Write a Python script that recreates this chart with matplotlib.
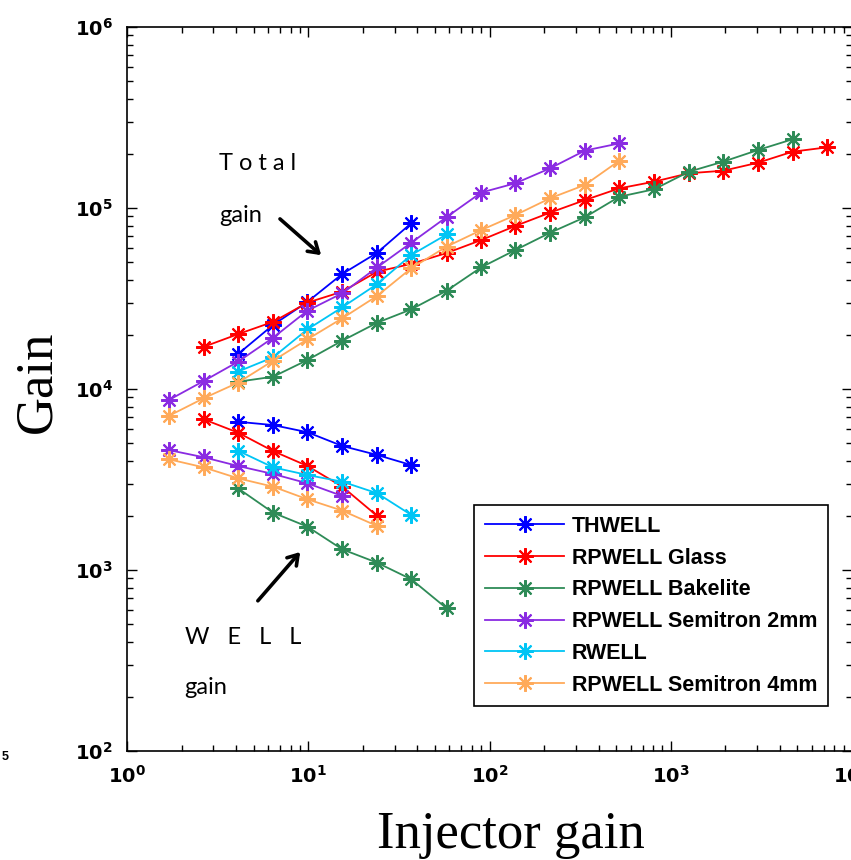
import numpy as np
import matplotlib
matplotlib.use("Agg")
import matplotlib.pyplot as plt
from matplotlib.ticker import FuncFormatter, LogLocator, NullFormatter

# injector gain values (common grid)
inj = [1.7, 2.65, 4.1, 6.4, 9.9, 15.4, 24, 37, 58, 90, 139, 216, 336, 520,
       810, 1260, 1950, 3030, 4700, 7300]

# total gain
thwell_x = inj[2:8]
thwell_tot = [15600, 22600, 30300, 43200, 56600, 82400]
glass_x = inj[1:20]
glass_tot = [17100, 20100, 23500, 30000, 34500, 44500, 49100, 56400, 66500,
             79600, 94300, 110600, 128400, 139800, 155600, 160700, 177900,
             204700, 216400]
bake_x = inj[2:19]
bake_tot = [10970, 11690, 14460, 18480, 23240, 27550, 34900, 47000, 58600,
            73000, 88900, 115400, 126900, 158700, 180400, 209100, 239700]
semi2_x = inj[0:14]
semi2_tot = [8690, 11070, 14150, 19200, 27100, 33800, 47000, 64300, 89100,
             121700, 137000, 165700, 207600, 227500]
rwell_x = inj[2:9]
rwell_tot = [12480, 14970, 21360, 28270, 38000, 55000, 71400]
semi4_x = inj[0:14]
semi4_tot = [7100, 8890, 10840, 14330, 18820, 24580, 32680, 46470, 61200,
             75500, 91400, 113200, 134100, 182500]

# WELL gain
thwell_wx = inj[2:8]
thwell_well = [6590, 6320, 5770, 4845, 4320, 3800]
glass_wx = inj[1:7]
glass_well = [6800, 5740, 4540, 3755, 2890, 1990]
bake_wx = inj[2:9]
bake_well = [2826, 2073, 1735, 1301, 1097, 889, 614]
semi2_wx = inj[0:6]
semi2_well = [4600, 4197, 3755, 3392, 3012, 2565]
rwell_wx = inj[2:8]
rwell_well = [4560, 3690, 3348, 3076, 2655, 2015]
semi4_wx = inj[0:7]
semi4_well = [4090, 3690, 3210, 2886, 2458, 2128, 1750]

labels = ["THWELL", "RPWELL Glass", "RPWELL Bakelite", "RPWELL Semitron 2mm",
          "RWELL", "RPWELL Semitron 4mm"]
colors = ["#0000FF", "#FF0000", "#2E8B57", "#8A2BE2", "#00C5F5", "#FFAA5A"]

W, H = 851, 860
fig = plt.figure(figsize=(W / 100, H / 100), dpi=100)
ax = fig.add_axes([127 / W, 1 - 751 / H, (852 - 127) / W, (751 - 27) / H])

series = [
    (thwell_x, thwell_tot, thwell_wx, thwell_well),
    (glass_x, glass_tot, glass_wx, glass_well),
    (bake_x, bake_tot, bake_wx, bake_well),
    (semi2_x, semi2_tot, semi2_wx, semi2_well),
    (rwell_x, rwell_tot, rwell_wx, rwell_well),
    (semi4_x, semi4_tot, semi4_wx, semi4_well),
]
mk = dict(marker=(8, 2, 0), markersize=12, markeredgewidth=1.5, linewidth=1.3)
for (xt, yt, xw, yw), c, lab in zip(series, colors, labels):
    ax.plot(xt, yt, color=c, label=lab, **mk)
    ax.plot(xw, yw, color=c, **mk)

ax.set_xscale("log")
ax.set_yscale("log")
ax.set_xlim(1, 1e4)
ax.set_ylim(1e2, 1e6)

fmt = FuncFormatter(lambda v, p: r"$\mathbf{10^{%d}}$" % round(np.log10(v)))
for a in (ax.xaxis, ax.yaxis):
    a.set_major_locator(LogLocator(base=10, numticks=10))
    a.set_minor_locator(LogLocator(base=10, subs=np.arange(2, 10), numticks=10))
    a.set_major_formatter(fmt)
    a.set_minor_formatter(NullFormatter())
ax.tick_params(which="both", direction="in", top=True, right=True, width=1.0)
ax.tick_params(which="major", length=7, labelsize=14, pad=10)
ax.tick_params(which="minor", length=4)
for s in ax.spines.values():
    s.set_linewidth(1.2)

ax.set_ylabel("Gain", fontsize=38, family="Liberation Serif")
ax.yaxis.set_label_coords(-0.09, 0.51)
ax.set_xlabel("Injector gain", fontsize=38, family="Liberation Serif")
ax.xaxis.set_label_coords(0.53, -0.083)

leg = ax.legend(loc="upper left", bbox_to_anchor=(474 / W, 1 - 505 / H),
                bbox_transform=fig.transFigure, borderaxespad=0, fancybox=False,
                edgecolor="black", framealpha=1, handlelength=3.7,
                labelspacing=0.5, borderpad=0.5, handletextpad=0.35,
                prop={"family": "Liberation Sans", "weight": "bold", "size": 15.5})
leg.get_frame().set_linewidth(1.2)

tf = fig.transFigure
tkw = dict(transform=tf, family="Lato", fontsize=17, va="center", ha="left")
fig.text(219 / W, 1 - 163 / H, "T o t a l", **tkw)
fig.text(219 / W, 1 - 215 / H, "gain", **tkw)
fig.text(185 / W, 1 - 637 / H, "W   E   L   L", **tkw)
fig.text(184 / W, 1 - 688 / H, "gain", **tkw)

arr = dict(arrowstyle="->,head_length=0.7,head_width=0.45", lw=2.6, color="black")
ax.annotate("", xy=(12.1, 53600), xytext=(6.8, 89100), arrowprops=arr)
ax.annotate("", xy=(9.24, 1291), xytext=(5.15, 658), arrowprops=arr)

# stray label fragment from the neighbouring panel
fig.text(2 / W, 1 - 757 / H, "5", fontsize=9, weight="bold",
         family="Liberation Sans", va="center", ha="left")

fig.savefig("out.png", dpi=100)
